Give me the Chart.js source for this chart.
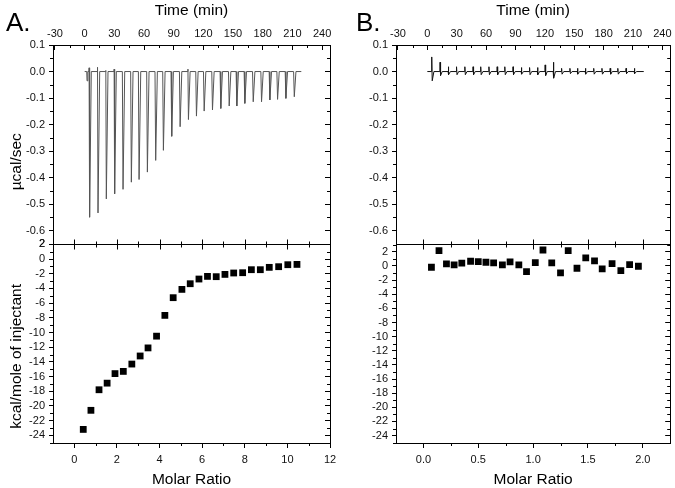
<!DOCTYPE html>
<html>
<head>
<meta charset="utf-8">
<script src="https://cdn.jsdelivr.net/npm/chart.js@4.4.1/dist/chart.umd.min.js"></script>
<style>
  body { margin: 0; background: #fff; }
  #wrap { position: relative; width: 675px; height: 488px; }
  canvas { position: absolute; top: 0; }
  #cA { left: 0; }
  #cB { left: 337px; }
  .tag { position: absolute; font: 26px "Liberation Sans", Arial, sans-serif; color: #000; }
</style>
</head>
<body>
<div id="wrap">
  <canvas id="cA" width="337" height="488"></canvas>
  <canvas id="cB" width="338" height="488"></canvas>
  <div class="tag" style="left:6px;top:7px">A.</div>
  <div class="tag" style="left:356px;top:7px">B.</div>
</div>
<script>
"use strict";
// axis ticks
var timeTicks = [-30, 0, 30, 60, 90, 120, 150, 180, 210, 240];
var powerTicks = [0.1, 0.0, -0.1, -0.2, -0.3, -0.4, -0.5, -0.6];
var heatTicks = [2, 0, -2, -4, -6, -8, -10, -12, -14, -16, -18, -20, -22, -24];
var ratioTicksA = [0, 2, 4, 6, 8, 10, 12];
var ratioTicksB = [0, 0.5, 1.0, 1.5, 2.0];

// injection times (min), both runs
var injTimes = [4.7, 13.2, 21.6, 30.0, 38.5, 46.9, 54.7, 63.1, 71.5, 79.3, 87.7, 96.2, 104.6,
                112.7, 120.5, 128.9, 137.3, 145.8, 153.5, 161.6, 170.1, 178.5, 186.9, 194.7, 203.1, 211.6];

// A: raw heat rate peaks (ucal/sec) and small upward blips
var peaksA = [-0.549, -0.533, -0.480, -0.461, -0.444, -0.417, -0.407, -0.379, -0.335, -0.297, -0.244, -0.208, -0.181,
              -0.168, -0.149, -0.145, -0.139, -0.130, -0.130, -0.120, -0.114, -0.114, -0.107, -0.105, -0.101, -0.095];
var blipsA = [0.014, 0.016, 0.004, 0.009, 0, 0, 0, 0, 0, 0, 0, 0, 0.009,
              0, 0, 0, 0, 0, 0, 0, 0, 0, 0, 0, 0, 0];
var preInjA = { t: 2.4, y: -0.035 };
// A: integrated heats
var ratioA = [0.42, 0.78, 1.16, 1.54, 1.91, 2.30, 2.70, 3.09, 3.46, 3.86, 4.25, 4.64, 5.05,
              5.44, 5.85, 6.25, 6.66, 7.07, 7.48, 7.90, 8.31, 8.73, 9.15, 9.59, 10.02, 10.45];
var heatA = [-23.2, -20.6, -17.8, -16.9, -15.6, -15.3, -14.3, -13.2, -12.1, -10.5, -7.67, -5.26, -4.13,
             -3.36, -2.72, -2.36, -2.40, -2.09, -1.90, -1.86, -1.45, -1.45, -1.13, -1.04, -0.77, -0.73];

// B: raw heat rate spikes (up / down)
var upB = [0.055, 0.035, 0.018, 0.018, 0.018, 0.018, 0.018, 0.018, 0.018, 0.018, 0.018, 0.015, 0.015,
           0.015, 0.025, 0.035, 0.012, 0.012, 0.012, 0.012, 0.012, 0.012, 0.012, 0.012, 0.012, 0.012];
var downB = [-0.035, -0.015, -0.012, -0.012, -0.012, -0.012, -0.012, -0.012, -0.012, -0.012, -0.012, -0.010, -0.012,
             -0.012, -0.015, -0.025, -0.010, -0.008, -0.010, -0.010, -0.010, -0.010, -0.010, -0.010, -0.008, -0.008];
// B: integrated heats
var ratioB = [0.073, 0.142, 0.21, 0.28, 0.35, 0.43, 0.50, 0.57, 0.64, 0.72, 0.79, 0.87, 0.94,
              1.02, 1.09, 1.17, 1.25, 1.32, 1.40, 1.48, 1.56, 1.63, 1.72, 1.80, 1.88, 1.96];
var heatB = [-0.19, 2.16, 0.28, 0.14, 0.38, 0.66, 0.61, 0.52, 0.42, 0.14, 0.56, 0.14, -0.80,
             0.47, 2.25, 0.42, -0.99, 2.16, -0.33, 1.13, 0.70, -0.42, 0.33, -0.66, 0.19, -0.05];

var FONT = '"Liberation Sans", Arial, sans-serif';

function buildTrace(start, end, times, lows, highs, pre) {
    var pts = [{ x: start, y: 0 }];
    if (pre) {
        pts.push({ x: pre.t - 0.3, y: 0 }, { x: pre.t, y: pre.y }, { x: pre.t + 0.8, y: 0 });
    }
    for (var i = 0; i < times.length; i++) {
        var t = times[i];
        pts.push({ x: t - 0.4, y: 0 });
        if (highs[i]) pts.push({ x: t - 0.2, y: highs[i] });
        pts.push({ x: t + 0.3, y: lows[i] });
        pts.push({ x: t + 2.0, y: 0 });
    }
    pts.push({ x: end, y: 0 });
    return pts;
}

function toPoints(xs, ys) {
    return xs.map(function (x, i) { return { x: x, y: ys[i] }; });
}

function fixedTicks(values) {
    return function (s) {
        s.ticks = values.map(function (v) { return { value: v }; });
    };
}

function oneDec(v) { return Number(v).toFixed(1); }

function xAxis(pos, min, max, ticks, title, fmt) {
    var top = pos === 'top';
    return {
        type: 'linear', position: pos, min: min, max: max,
        afterBuildTicks: fixedTicks(ticks),
        afterFit: function (s) { s.height = 45; s.paddingLeft = 0; s.paddingRight = 0; },
        grid: { drawOnChartArea: false, tickLength: top ? -5 : 5, tickColor: '#000' },
        border: { color: '#000', width: 1 },
        ticks: { color: '#111', font: { family: FONT, size: 11 }, padding: top ? 9 : 5, maxRotation: 0,
                 autoSkip: false, callback: fmt },
        title: { display: true, text: title, color: '#000', font: { family: FONT, size: 15.5 },
                 padding: { top: 1, bottom: -1 } }
    };
}

function yAxis(min, max, ticks, title, width, weight, fmt) {
    return {
        type: 'linear', position: 'left', stack: 'L', stackWeight: 1, weight: weight,
        min: min, max: max,
        afterBuildTicks: fixedTicks(ticks),
        afterFit: function (s) { s.width = width; s.paddingTop = 0; s.paddingBottom = 0; },
        grid: { drawOnChartArea: false, tickLength: 4, tickColor: '#000' },
        border: { color: '#000', width: 1 },
        ticks: { color: '#111', font: { family: FONT, size: 11 }, padding: 4, autoSkip: false, callback: fmt },
        title: { display: !!title, text: title, color: '#000', font: { family: FONT, size: 15.5 },
                 padding: { top: 7, bottom: 0 } }
    };
}

function yRight(min, max, ticks, width, weight) {
    return {
        type: 'linear', position: 'right', stack: 'R', stackWeight: 1, weight: weight,
        min: min, max: max,
        afterBuildTicks: fixedTicks(ticks),
        afterFit: function (s) { s.width = width; s.paddingTop = 0; s.paddingBottom = 0; },
        grid: { drawOnChartArea: false, tickLength: -5, tickColor: '#000' },
        border: { color: '#000', width: 1 },
        ticks: { display: false, autoSkip: false }
    };
}

function minorValues(scale) {
    var t = scale.ticks, out = [];
    if (t.length < 2) return out;
    var step = t[1].value - t[0].value;
    for (var i = -1; i < t.length; i++) {
        var base = i < 0 ? t[0].value : t[i].value;
        var v = i < 0 ? base - step / 2 : base + step / 2;
        if (v > Math.min(scale.min, scale.max) && v < Math.max(scale.min, scale.max)) out.push(v);
    }
    return out;
}

// divider line + minor ticks, positioned from the chart's own scales
var framePlugin = {
    id: 'frame',
    afterDraw: function (chart) {
        var c = chart.ctx, a = chart.chartArea, s = chart.scales;
        var yd = Math.round(s.yT.bottom) + 0.5;
        c.save();
        c.strokeStyle = '#000';
        c.lineWidth = 1;
        c.beginPath();
        c.moveTo(a.left, yd);
        c.lineTo(a.right, yd);
        s.xR.ticks.forEach(function (tk) {
            if (tk.value >= s.xR.max) return;
            var px = Math.round(s.xR.getPixelForValue(tk.value)) + 0.5;
            c.moveTo(px, yd - 5); c.lineTo(px, yd + 5);
        });
        minorValues(s.xR).forEach(function (v) {
            var px = Math.round(s.xR.getPixelForValue(v)) + 0.5;
            c.moveTo(px, yd - 3); c.lineTo(px, yd + 3);
            c.moveTo(px, a.bottom); c.lineTo(px, a.bottom + 3);
        });
        minorValues(s.xT).forEach(function (v) {
            var px = Math.round(s.xT.getPixelForValue(v)) + 0.5;
            c.moveTo(px, a.top); c.lineTo(px, a.top + 3);
        });
        ['yT', 'yB'].forEach(function (id) {
            minorValues(s[id]).forEach(function (v) {
                var py = Math.round(s[id].getPixelForValue(v)) + 0.5;
                c.moveTo(a.left - 3, py); c.lineTo(a.left, py);
                c.moveTo(a.right - 3, py); c.lineTo(a.right, py);
            });
        });
        c.stroke();
        // the top heat label sits right on the divider and gets lost there, so put it back
        var first = s.yB.ticks[0];
        var py0 = s.yB.getPixelForValue(first.value);
        if (py0 - s.yB.top < 2) {
            c.fillStyle = '#111';
            c.font = '11px ' + FONT;
            c.textAlign = 'right';
            c.textBaseline = 'middle';
            c.fillText(first.label, a.left - 8, py0);
        }
        c.restore();
    }
};

function makePanel(canvasId, p) {
    return new Chart(document.getElementById(canvasId), {
        type: 'scatter',
        data: {
            datasets: [
                { type: 'line', data: p.trace, xAxisID: 'xT', yAxisID: 'yT', borderColor: p.traceColor,
                  borderWidth: 1, pointRadius: 0, tension: 0 },
                { data: p.points, xAxisID: 'xR', yAxisID: 'yB', pointStyle: 'rect', pointRadius: 4.8,
                  backgroundColor: '#000', borderColor: '#000', borderWidth: 0 }
            ]
        },
        options: {
            responsive: false,
            animation: false,
            devicePixelRatio: 1,
            layout: { padding: 0 },
            plugins: { legend: { display: false }, tooltip: { enabled: false } },
            scales: {
                xT: xAxis('top', -32, 248, timeTicks, 'Time (min)', function (v) { return String(v); }),
                xR: xAxis('bottom', p.rMin, p.rMax, p.rTicks, 'Molar Ratio', p.rFmt),
                // trailing spaces nudge the rotated titles down a little, as in the original
                yT: yAxis(-0.65, 0.1, powerTicks, p.titles ? 'µcal/sec        ' : '', p.leftW, 1, oneDec),
                yB: yAxis(-25.05, p.hMax, heatTicks, p.titles ? 'kcal/mole of injectant      ' : '', p.leftW, 0,
                          function (v) { return String(v); }),
                yTR: yRight(-0.65, 0.1, powerTicks, p.rightW, 0),
                yBR: yRight(-25.05, p.hMax, heatTicks, p.rightW, 1)
            }
        },
        plugins: [framePlugin]
    });
}

makePanel('cA', {
    trace: buildTrace(0, 219, injTimes, peaksA, blipsA, preInjA),
    traceColor: '#555',
    points: toPoints(ratioA, heatA),
    rMin: -1, rMax: 12, rTicks: ratioTicksA, rFmt: function (v) { return String(v); },
    hMax: 2.05, titles: true, leftW: 53, rightW: 7
});

makePanel('cB', {
    trace: buildTrace(0, 221, injTimes, downB, upB, null),
    traceColor: '#111',
    points: toPoints(ratioB, heatB),
    rMin: -0.25, rMax: 2.25, rTicks: ratioTicksB, rFmt: oneDec,
    hMax: 3.1, titles: false, leftW: 59, rightW: 3
});
</script>
</body>
</html>
